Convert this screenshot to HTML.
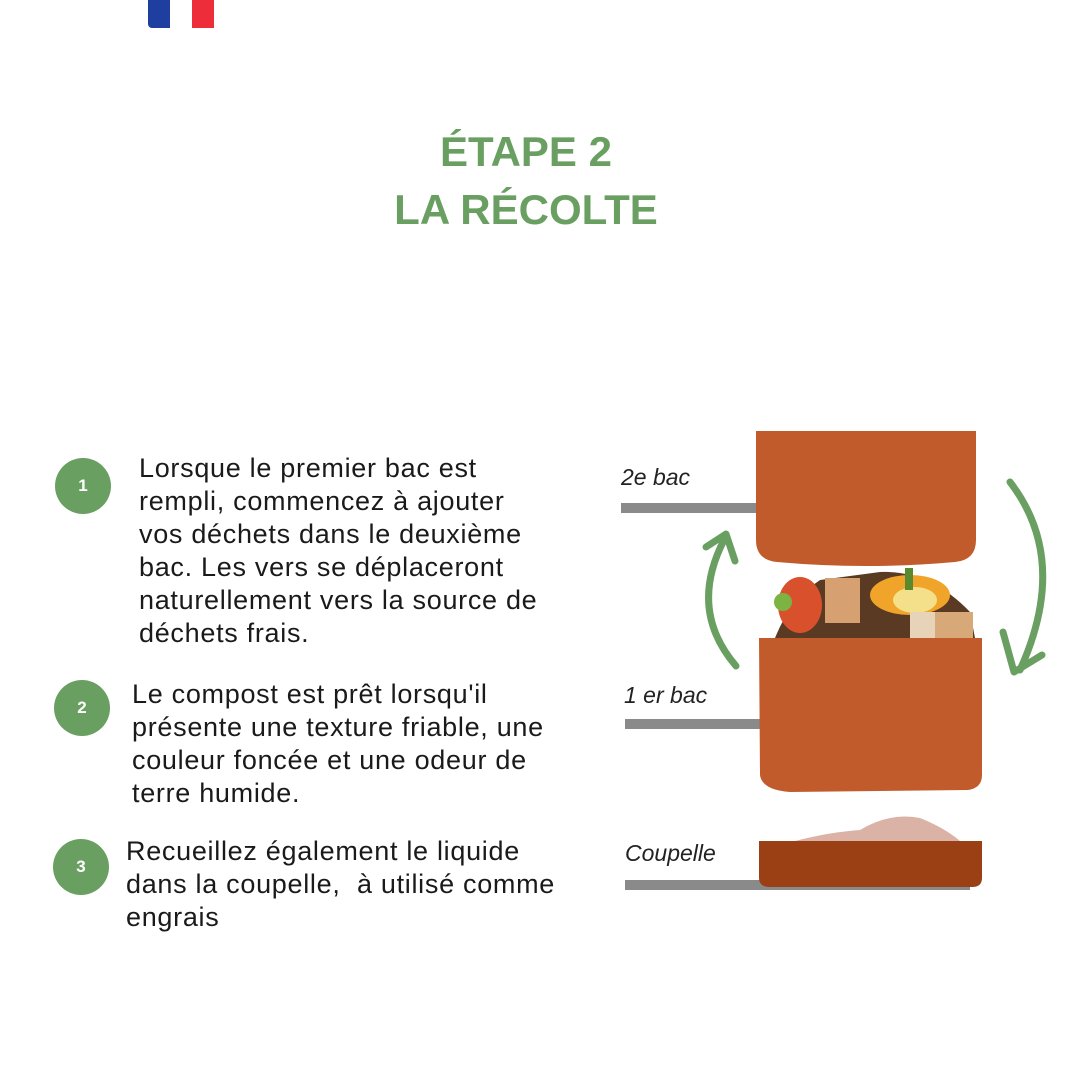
<!DOCTYPE html>
<html><head><meta charset="utf-8"><style>
body{margin:0;width:1080px;height:1080px;background:#fff;position:relative;overflow:hidden;font-family:"Liberation Sans",sans-serif}
.t{position:absolute;left:0;width:1052px;text-align:center;color:#6a9f62;font-weight:bold;font-size:42px}
.c{position:absolute;width:56px;height:56px;border-radius:50%;background:#6a9f62;color:#fff;font-weight:bold;font-size:17px;text-align:center;line-height:56px}
.p{position:absolute;font-size:27px;line-height:33px;color:#1a1a1a;white-space:nowrap;letter-spacing:0.7px}
.l{position:absolute;font-style:italic;font-size:23px;color:#222}
.g{position:absolute;background:#8a8a8a;height:10px}
</style></head><body>
<div style="position:absolute;left:148px;top:0;width:22px;height:28px;background:#1f3fa0;border-bottom-left-radius:4px"></div>
<div style="position:absolute;left:192px;top:0;width:22px;height:28px;background:#ee2d3a"></div>
<div class="t" style="top:128px">ÉTAPE 2</div>
<div class="t" style="top:186px">LA RÉCOLTE</div>

<div class="c" style="left:55px;top:458px">1</div>
<div class="c" style="left:54px;top:680px">2</div>
<div class="c" style="left:53px;top:839px">3</div>
<div class="p" style="left:139px;top:452px">Lorsque le premier bac est<br>rempli, commencez à ajouter<br>vos déchets dans le deuxième<br>bac. Les vers se déplaceront<br>naturellement vers la source de<br>déchets frais.</div>
<div class="p" style="left:132px;top:678px">Le compost est prêt lorsqu'il<br>présente une texture friable, une<br>couleur foncée et une odeur de<br>terre humide.</div>
<div class="p" style="left:126px;top:835px">Recueillez également le liquide<br>dans la coupelle,&nbsp; à utilisé comme<br>engrais</div>

<div class="l" style="left:621px;top:464px">2e bac</div>
<div class="l" style="left:624px;top:682px">1 er bac</div>
<div class="l" style="left:625px;top:840px">Coupelle</div>
<div class="g" style="left:621px;top:503px;width:140px"></div>
<div class="g" style="left:625px;top:719px;width:140px"></div>
<div class="g" style="left:625px;top:880px;width:345px"></div>

<svg style="position:absolute;left:0;top:0" width="1080" height="1080">
<path d="M775 638 Q790 600 820 580 L880 572 Q930 570 970 612 L975 638 Z" fill="#5a3a22"/>
<ellipse cx="800" cy="605" rx="22" ry="28" fill="#d8502c"/>
<circle cx="783" cy="602" r="9" fill="#7cb342"/>
<rect x="825" y="578" width="35" height="45" fill="#d7a070"/>
<ellipse cx="910" cy="595" rx="40" ry="20" fill="#f0a52a"/>
<ellipse cx="915" cy="600" rx="22" ry="13" fill="#f4e08a"/>
<rect x="905" y="568" width="8" height="22" fill="#5b8a2e"/>
<rect x="935" y="612" width="38" height="28" fill="#d7a878"/>
<rect x="910" y="612" width="25" height="28" fill="#e6d3b8"/>
<path d="M756 431 H976 V540 Q976 560 955 562 Q866 570 777 562 Q756 560 756 540 Z" fill="#c25b2b"/>
<path d="M759 638 H982 V775 Q982 788 968 790 L790 792 Q762 790 760 775 Z" fill="#c25b2b"/>
<path d="M795 841 Q830 832 860 830 Q890 812 920 818 Q945 828 960 841 Z" fill="#dbb3a6"/>
<path d="M759 841 H982 V878 Q982 887 972 887 H770 Q759 887 759 878 Z" fill="#9b3f14"/>
<path d="M736 666 Q688 610 724 540" fill="none" stroke="#6a9f62" stroke-width="7" stroke-linecap="round"/>
<path d="M706 547 L726 534 L735 561" fill="none" stroke="#6a9f62" stroke-width="7" stroke-linecap="round" stroke-linejoin="round"/>
<path d="M1010 482 Q1070 560 1020 670" fill="none" stroke="#6a9f62" stroke-width="7" stroke-linecap="round"/>
<path d="M1003 632 L1014 672 L1042 655" fill="none" stroke="#6a9f62" stroke-width="7" stroke-linecap="round" stroke-linejoin="round"/>
</svg>
</body></html>
